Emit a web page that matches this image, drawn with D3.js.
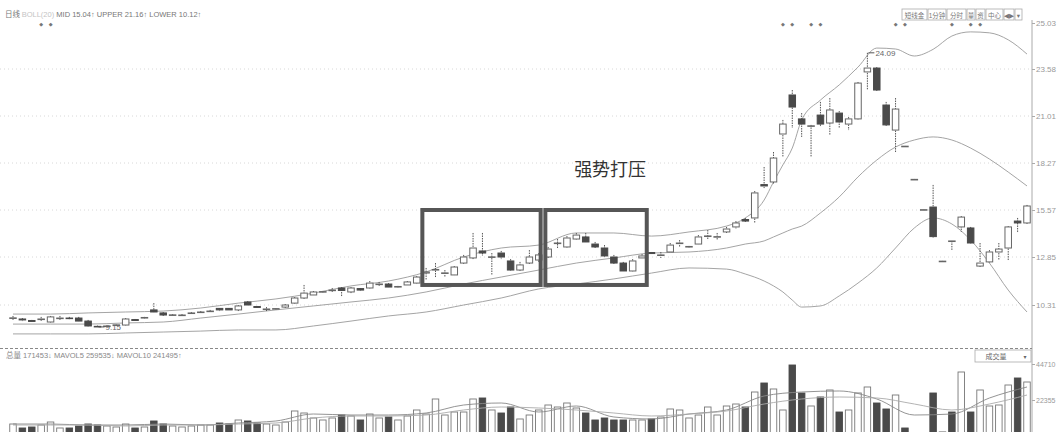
<!DOCTYPE html>
<html>
<head>
<meta charset="utf-8">
<script src="https://cdn.jsdelivr.net/npm/d3@7"></script>
<style>
  body { margin: 0; background: #fff; }
  text { font-family: "Liberation Sans", "DejaVu Sans", "Noto Sans CJK SC", sans-serif; }
</style>
</head>
<body>
<div id="graphic"></div>
<script>
// daily candles, one per trading day (price in yuan)
const opens = [
  9.62, 9.57, 9.49, 9.57, 9.41, 9.60, 9.62, 9.62, 9.46, 9.18,
  9.18, 9.24, 9.25, 9.54, 9.62, 10.05, 9.89, 9.78, 9.76, 9.88,
  9.93, 9.98, 10.13, 10.13, 10.05, 10.47, 10.23, 10.10, 10.10, 10.20,
  10.41, 10.68, 10.84, 11.00, 11.10, 11.21, 11.00, 11.18, 11.21, 11.42,
  11.42, 11.26, 11.37, 11.47, 12.00, 12.16, 12.00, 11.90, 12.53, 12.80,
  13.20, 12.85, 13.08, 12.64, 12.16, 12.53, 12.69, 12.85, 13.63, 13.43,
  13.89, 14.01, 13.60, 13.37, 12.85, 12.53, 12.11, 12.80, 13.11, 12.97,
  13.14, 13.66, 13.43, 13.60, 14.06, 14.01, 14.30, 14.59, 15.02, 15.11,
  17.03, 17.18, 19.96, 22.16, 20.84, 20.43, 21.06, 20.60, 21.17, 20.54,
  20.84, 23.42, 23.61, 21.61, 20.19, 19.25, 17.33, 15.59, 15.74, 12.63,
  13.78, 14.59, 14.53, 12.37, 12.59, 13.14, 13.37, 14.93, 14.82
];
const highs = [
  9.73, 9.62, 9.52, 9.68, 9.73, 9.73, 9.68, 9.68, 9.52, 9.22,
  9.22, 9.28, 9.62, 9.57, 9.68, 10.41, 9.94, 9.83, 9.83, 9.94,
  9.99, 10.05, 10.15, 10.15, 10.31, 10.52, 10.26, 10.20, 10.15, 10.36,
  10.73, 11.37, 11.05, 11.05, 11.21, 11.26, 11.26, 11.21, 11.58, 11.53,
  11.47, 11.32, 11.58, 11.84, 12.27, 12.53, 12.16, 12.37, 12.97, 14.24,
  14.24, 13.08, 13.20, 12.74, 12.59, 13.25, 13.08, 13.43, 13.89, 14.06,
  14.24, 14.24, 13.72, 13.54, 12.97, 12.59, 12.74, 13.02, 13.14, 13.14,
  13.66, 13.83, 13.49, 14.12, 14.41, 14.24, 14.59, 14.93, 15.11, 16.66,
  18.04, 18.91, 20.78, 22.43, 21.17, 20.49, 21.78, 21.99, 21.28, 20.95,
  22.87, 24.09, 23.64, 21.78, 21.99, 19.25, 17.33, 15.59, 17.01, 12.63,
  13.78, 15.22, 14.59, 13.66, 13.25, 13.66, 14.64, 15.11, 15.86
];
const lows = [
  9.52, 9.46, 9.41, 9.46, 9.36, 9.52, 9.54, 9.41, 9.17, 9.15,
  9.16, 9.20, 9.20, 9.46, 9.57, 9.89, 9.73, 9.73, 9.73, 9.83,
  9.89, 9.94, 9.99, 10.02, 9.99, 10.26, 10.15, 9.99, 10.05, 10.15,
  10.36, 10.63, 10.79, 10.94, 11.00, 10.73, 10.94, 11.05, 11.16, 11.32,
  11.21, 11.21, 11.32, 11.42, 11.63, 11.79, 11.79, 11.84, 12.48, 12.74,
  12.91, 11.90, 12.74, 12.11, 12.06, 12.48, 12.59, 12.80, 13.37, 13.37,
  13.83, 13.66, 13.37, 12.85, 12.48, 12.06, 12.06, 12.74, 13.02, 12.80,
  13.08, 13.43, 13.37, 13.54, 13.83, 13.83, 14.24, 14.47, 14.88, 14.82,
  16.83, 17.06, 18.62, 20.31, 19.79, 18.62, 20.37, 19.90, 20.31, 20.19,
  20.78, 22.43, 22.38, 20.43, 18.91, 19.25, 17.33, 15.59, 13.95, 12.63,
  13.25, 14.30, 13.60, 12.32, 12.53, 12.69, 12.69, 14.24, 14.76
];
const closes = [
  9.63, 9.52, 9.44, 9.57, 9.68, 9.62, 9.60, 9.46, 9.20, 9.16,
  9.20, 9.26, 9.57, 9.49, 9.65, 9.94, 9.78, 9.79, 9.78, 9.89,
  9.94, 9.99, 10.05, 10.05, 10.26, 10.31, 10.18, 10.10, 10.12, 10.31,
  10.68, 10.94, 11.00, 11.02, 11.10, 11.08, 11.21, 11.10, 11.47, 11.42,
  11.26, 11.29, 11.53, 11.79, 12.06, 12.19, 12.01, 12.32, 12.85, 13.37,
  13.08, 12.86, 12.85, 12.16, 12.43, 12.85, 12.97, 13.31, 13.66, 13.95,
  14.12, 13.72, 13.43, 12.91, 12.53, 12.11, 12.64, 12.91, 13.05, 12.97,
  13.54, 13.66, 13.46, 14.01, 14.07, 14.03, 14.47, 14.82, 14.93, 16.55,
  16.95, 18.56, 20.54, 21.50, 20.54, 20.44, 20.54, 21.34, 20.66, 20.84,
  22.81, 23.61, 22.43, 20.49, 21.39, 19.25, 17.33, 15.59, 14.03, 12.63,
  13.78, 15.16, 13.66, 12.53, 13.14, 13.31, 14.59, 14.82, 15.80
];
// volume (hands)
const volumes = [
  7450, 4970, 5590, 6830, 8690, 4970, 4970, 6210, 7450, 6830,
  6210, 5590, 7450, 4970, 5590, 9320, 7450, 6210, 5590, 6210,
  6830, 6830, 8070, 7450, 9940, 9320, 8070, 7450, 6830, 8690,
  15530, 14280, 11180, 9940, 11180, 13040, 12420, 9940, 13660, 11180,
  11800, 9940, 12420, 16150, 13660, 22980, 13040, 14900, 14900, 22980,
  23600, 16150, 14280, 18010, 10560, 13040, 16150, 19250, 18010, 20490,
  17390, 14280, 9940, 11180, 9940, 9940, 9940, 9940, 10560, 11800,
  16770, 16150, 11180, 13040, 18010, 13040, 18630, 19870, 18010, 27320,
  32910, 29190, 16150, 44090, 26700, 18630, 24220, 28570, 14900, 16150,
  26700, 30430, 20490, 16770, 25460, 4970, 1860, 1860, 26700, 2480,
  14900, 39740, 14900, 28570, 18630, 19250, 31670, 36020, 33530
];

// Bollinger bands, read at these day indices
const bandIdx = [0, 4, 8, 12, 16, 20, 24, 28, 32, 36, 40, 44, 48, 52, 56, 60, 64, 68, 72, 76,
  78, 80, 81, 82, 83, 84, 86, 88, 90, 92, 94, 96, 98, 100, 102, 104, 106, 108];
const upperBand = [9.83, 9.83, 9.89, 9.94, 9.99, 10.15, 10.41, 10.63, 10.94, 11.32, 11.58, 12.06, 12.85, 13.37,
  13.54, 14.24, 14.24, 14.06, 14.30, 14.64, 15.11, 16.14, 17.18, 18.16, 19.14, 20.78, 21.88, 22.71,
  23.64, 24.24, 24.21, 23.99, 24.20, 24.62, 24.75, 24.72, 24.50, 24.05];
const midBand = [9.30, 9.30, 9.30, 9.36, 9.41, 9.62, 9.83, 10.05, 10.26, 10.47, 10.68, 11.00, 11.42, 11.79,
  12.16, 12.53, 12.80, 13.08, 13.14, 13.37, 13.60, 13.78, 14.01, 14.24, 14.47, 14.64, 15.40, 16.32,
  17.47, 18.44, 19.20, 19.61, 19.79, 19.61, 19.14, 18.50, 17.75, 16.95];
const lowerBand = [8.78, 8.78, 8.78, 8.83, 8.88, 8.93, 8.99, 8.99, 9.20, 9.46, 9.73, 9.94, 10.31, 10.68,
  11.16, 11.42, 11.69, 12.00, 12.27, 12.21, 11.95, 11.58, 11.32, 11.00, 10.57, 10.20, 10.26, 10.79,
  11.47, 12.27, 13.37, 14.53, 15.11, 14.76, 13.83, 12.53, 11.10, 9.94];

// volume moving averages, read every 4 days
const maIdx = d3.range(0, 109, 4);
const mavol5 = [7450, 7450, 6830, 6830, 7450, 6830, 8070, 9320, 13660, 13040, 13040, 14280, 19250, 20490,
  14900, 18630, 11800, 10560, 13660, 16150, 24840, 27320, 27950, 22980, 13040, 13660, 23600, 30430];
const mavol10 = [6830, 6830, 6830, 6210, 6830, 6830, 7450, 8070, 11180, 12420, 12420, 13040, 16150, 18010,
  17390, 16150, 14280, 12420, 13660, 15530, 19870, 22980, 24220, 23600, 19870, 16150, 19870, 25460];

// axis labels
const priceTicks = [10.31, 12.85, 15.57, 18.27, 21.01, 23.58, 25.03];
const volTicks = [22355, 44710];

// info markers above the chart, and the two highlighted ranges
const markerIdx = [3, 4, 82, 83, 85, 86, 94, 95, 100, 102, 103];
const boxRanges = [[43.6, 56.2], [56.7, 67.5]];
const boxPrices = [15.57, 11.37];
const toolbarLabels = ["短线金", "1分钟", "分时", "量", "资", "中心", "◀▶", "▾"];
const toolbarWidths = [26, 19, 20, 9, 10, 18, 11, 8];

const width = 1061, height = 432;
const axisX = 1032;

const svg = d3.select("#graphic")
  .append("svg")
  .attr("width", width)
  .attr("height", height)
  .style("background", "#fff");

const x = d3.scaleLinear().domain([0, 108]).range([13, 1027]);
// price axis of the software is not evenly spaced, so map label by label
const y = d3.scaleLinear().domain(priceTicks).range([305, 257, 210, 163, 116, 69, 23]);
const yv = d3.scaleLinear().domain([0, 44710]).range([436, 364]);

const candles = opens.map((o, i) => ({
  i, o, h: highs[i], l: lows[i], c: closes[i], v: volumes[i]
}));
const bw = 6.5;
const up = d => d.c >= d.o;

// faint dotted grid at price labels
svg.append("g")
  .selectAll("line")
  .data(priceTicks.slice(0, -1))
  .join("line")
  .attr("x1", 0).attr("x2", axisX)
  .attr("y1", d => y(d)).attr("y2", d => y(d))
  .attr("stroke", "#d8d8d8")
  .attr("stroke-dasharray", "1,3");

// Bollinger lines
const bandLine = vals => d3.line()
  .x((d, k) => x(bandIdx[k]))
  .y(d => y(d))
  .curve(d3.curveMonotoneX)(vals);

[upperBand, midBand, lowerBand].forEach(vals => {
  svg.append("path")
    .attr("d", bandLine(vals))
    .attr("fill", "none")
    .attr("stroke", "#9a9a9a")
    .attr("stroke-width", 0.9);
});

// candles
const cg = svg.append("g");
cg.selectAll(".wick")
  .data(candles)
  .join("line")
  .attr("class", "wick")
  .attr("x1", d => x(d.i)).attr("x2", d => x(d.i))
  .attr("y1", d => y(d.h)).attr("y2", d => y(d.l))
  .attr("stroke", "#555")
  .attr("stroke-dasharray", "1.5,1");

cg.selectAll(".body")
  .data(candles)
  .join("rect")
  .attr("class", "body")
  .attr("x", d => x(d.i) - bw / 2)
  .attr("width", bw)
  .attr("y", d => y(Math.max(d.o, d.c)))
  .attr("height", d => Math.max(0.6, Math.abs(y(d.o) - y(d.c))))
  .attr("fill", d => up(d) ? "#fff" : "#4a4a4a")
  .attr("stroke", d => up(d) ? "#666" : "#4a4a4a")
  .attr("stroke-width", 1);

// highest / lowest price notes
const hiIdx = d3.maxIndex(highs), loIdx = d3.minIndex(lows);
[[hiIdx, highs[hiIdx]], [loIdx, lows[loIdx]]].forEach(([i, p]) => {
  svg.append("line")
    .attr("x1", x(i) + 1).attr("x2", x(i) + 7)
    .attr("y1", y(p)).attr("y2", y(p))
    .attr("stroke", "#555");
  svg.append("text")
    .attr("x", x(i) + 8).attr("y", y(p) + 3)
    .attr("font-size", 8).attr("fill", "#666")
    .text(p.toFixed(2));
});

// the two suppression boxes
svg.append("g")
  .selectAll("rect")
  .data(boxRanges)
  .join("rect")
  .attr("x", d => x(d[0]))
  .attr("width", d => x(d[1]) - x(d[0]))
  .attr("y", y(boxPrices[0]))
  .attr("height", y(boxPrices[1]) - y(boxPrices[0]))
  .attr("fill", "none")
  .attr("stroke", "#565656")
  .attr("stroke-width", 4);

svg.append("text")
  .attr("x", x(63.6)).attr("y", y(17.55))
  .attr("text-anchor", "middle")
  .attr("font-family", "Noto Sans CJK SC")
  .attr("font-size", 18)
  .attr("fill", "#333")
  .text("强势打压");

// header of the price panel
const head = svg.append("text").attr("x", 5).attr("y", 17).attr("font-size", 7.5).attr("fill", "#777");
head.append("tspan").attr("font-family", "Noto Sans CJK SC").text("日线 ");
head.append("tspan").attr("fill", "#c4c4c4").text("BOLL(20) ");
head.append("tspan").text("MID 15.04↑  UPPER 21.16↑  LOWER 10.12↑");

// small info markers
svg.append("g")
  .selectAll("text")
  .data(markerIdx)
  .join("text")
  .attr("x", d => x(d)).attr("y", 26)
  .attr("text-anchor", "middle")
  .attr("font-size", 5).attr("fill", "#777")
  .attr("font-family", "DejaVu Sans")
  .text("◆");

// toolbar at top right
let tx = 902;
toolbarLabels.forEach((t, k) => {
  const w = toolbarWidths[k];
  svg.append("rect").attr("x", tx).attr("y", 9).attr("width", w - 1).attr("height", 11)
    .attr("fill", "#fff").attr("stroke", "#aaa").attr("stroke-width", 0.8);
  svg.append("text").attr("x", tx + (w - 1) / 2).attr("y", 17.5)
    .attr("text-anchor", "middle").attr("font-size", 6.5).attr("fill", "#777")
    .attr("font-family", "Noto Sans CJK SC, DejaVu Sans")
    .text(t);
  tx += w;
});

// right price axis
svg.append("line")
  .attr("x1", axisX).attr("x2", axisX).attr("y1", 20).attr("y2", height)
  .attr("stroke", "#aaa");
svg.append("g")
  .attr("transform", `translate(${axisX},0)`)
  .call(d3.axisRight(y).tickValues(priceTicks).tickSize(3).tickFormat(d3.format(".2f")))
  .call(g => g.select(".domain").remove())
  .call(g => g.selectAll("line").attr("stroke", "#aaa"))
  .call(g => g.selectAll("text").attr("fill", "#999").attr("font-size", 8).attr("x", 4));

// volume panel
svg.append("line")
  .attr("x1", 0).attr("x2", axisX).attr("y1", 348.5).attr("y2", 348.5)
  .attr("stroke", "#888").attr("stroke-dasharray", "3,2");

svg.append("text")
  .attr("x", 6).attr("y", 358)
  .attr("font-size", 7.5).attr("fill", "#888")
  .text("总量 171453↓  MAVOL5 259535↓  MAVOL10 241495↑");

svg.append("rect").attr("x", 975).attr("y", 350).attr("width", 56).attr("height", 12)
  .attr("fill", "#fff").attr("stroke", "#aaa").attr("stroke-width", 0.8);
svg.append("text").attr("x", 996).attr("y", 359).attr("text-anchor", "middle")
  .attr("font-size", 7).attr("fill", "#666").attr("font-family", "Noto Sans CJK SC")
  .text("成交量");
svg.append("text").attr("x", 1025).attr("y", 359).attr("text-anchor", "middle")
  .attr("font-size", 6).attr("fill", "#666").text("▾");

const vg = svg.append("g");
vg.selectAll("rect")
  .data(candles)
  .join("rect")
  .attr("x", d => x(d.i) - bw / 2)
  .attr("width", bw)
  .attr("y", d => yv(d.v))
  .attr("height", d => yv(0) - yv(d.v))
  .attr("fill", d => up(d) && d.c !== d.h || d.c > d.o ? "#fff" : "#4a4a4a")
  .attr("stroke", d => up(d) && d.c !== d.h || d.c > d.o ? "#777" : "#4a4a4a")
  .attr("stroke-width", 0.9);

const maLine = vals => d3.line()
  .x((d, k) => x(maIdx[k]))
  .y(d => yv(d))
  .curve(d3.curveMonotoneX)(vals);
[mavol5, mavol10].forEach((vals, k) => {
  svg.append("path")
    .attr("d", maLine(vals))
    .attr("fill", "none")
    .attr("stroke", k === 0 ? "#888" : "#aaa")
    .attr("stroke-width", 0.9);
});

svg.append("g")
  .attr("transform", `translate(${axisX},0)`)
  .call(d3.axisRight(yv).tickValues(volTicks).tickSize(3).tickFormat(d3.format("d")))
  .call(g => g.select(".domain").remove())
  .call(g => g.selectAll("line").attr("stroke", "#aaa"))
  .call(g => g.selectAll("text").attr("fill", "#999").attr("font-size", 7).attr("x", 4));
</script>
</body>
</html>
